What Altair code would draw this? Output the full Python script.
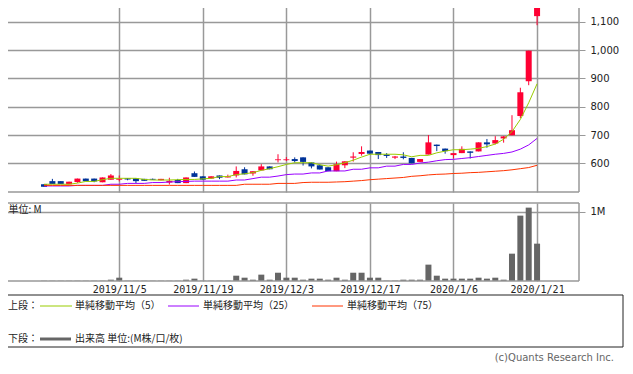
import altair as alt
import pandas as pd

# ---- data ----
tick_idx = [9, 19, 29, 39, 49, 59]
tick_labels = ["2019/11/5", "2019/11/19", "2019/12/3", "2019/12/17", "2020/1/6", "2020/1/21"]

opens = [526, 537, 537, 526, 534, 546, 546, 533, 542, 542,
         547, 547, 545, 545, 540, 532, 541, 530, 565, 554,
         546, 557, 550, 557, 579, 564, 575, 589, 611, 611,
         615, 621, 603, 593, 586, 572, 593, 620, 633, 645,
         640, 631, 620, 624, 619, 605, 631, 666, 652, 629,
         636, 642, 642, 674, 670, 688, 699, 767, 890, 1120]
highs = [526, 545, 537, 535, 546, 546, 546, 550, 562, 557,
         547, 547, 545, 546, 545, 549, 545, 550, 571, 554,
         554, 557, 560, 589, 586, 572, 597, 589, 632, 622,
         621, 621, 603, 596, 586, 606, 607, 639, 660, 645,
         640, 636, 626, 639, 619, 615, 700, 666, 652, 635,
         660, 642, 674, 686, 696, 696, 770, 867, 998, 1150]
lows = [517, 527, 527, 526, 531, 537, 533, 533, 542, 536,
        540, 530, 538, 541, 540, 525, 530, 530, 552, 542,
        546, 544, 550, 550, 561, 556, 575, 579, 603, 608,
        603, 592, 582, 578, 572, 572, 583, 606, 627, 631,
        615, 619, 615, 614, 600, 605, 631, 643, 634, 617,
        636, 617, 642, 655, 667, 673, 699, 760, 876, 1088]
closes = [517, 527, 527, 535, 546, 537, 536, 550, 557, 546,
          543, 537, 538, 542, 545, 538, 530, 550, 552, 542,
          554, 549, 554, 573, 561, 572, 589, 579, 614, 614,
          608, 605, 589, 578, 572, 597, 607, 624, 640, 634,
          629, 626, 624, 619, 600, 615, 674, 661, 643, 636,
          651, 637, 674, 667, 682, 695, 717, 851, 998, 1150]

ma5 = [526, 526, 526, 526, 530, 536, 536, 542, 547, 547,
       547, 547, 543, 541, 541, 541, 542, 543, 543, 545,
       547, 553, 553, 560, 563, 567, 575, 581, 588, 596,
       602, 602, 602, 595, 590, 595, 602, 611, 622, 632,
       632, 632, 632, 630, 623, 628, 628, 637, 643, 648,
       648, 650, 653, 659, 668, 685, 712, 755, 814, 881]
ma25 = [520, 520, 520, 520, 522, 522, 522, 522, 526, 526,
        529, 529, 529, 532, 532, 534, 535, 536, 537, 537,
        537, 537, 537, 541, 541, 546, 551, 551, 555, 560,
        562, 562, 566, 566, 573, 573, 573, 579, 579, 584,
        584, 590, 590, 596, 596, 601, 604, 609, 613, 614,
        617, 620, 624, 628, 632, 635, 640, 650, 665, 688]
ma75 = [522, 522, 522, 522, 522, 522, 522, 522, 522, 522,
        522, 522, 522, 522, 522, 522, 522, 522, 522, 522,
        522, 522, 522, 522, 526, 526, 526, 526, 529, 529,
        529, 532, 533, 533, 533, 534, 535, 537, 539, 542,
        544, 546, 548, 550, 554, 556, 559, 561, 562, 564,
        565, 567, 568, 570, 572, 574, 577, 581, 585, 593]

volume_m = [0.004, 0.004, 0.004, 0.004, 0.004, 0.004, 0.004, 0.004, 0.019, 0.048,
            0.004, 0.004, 0.004, 0.004, 0.004, 0.004, 0.004, 0.019, 0.034, 0.004,
            0.004, 0.004, 0.004, 0.077, 0.048, 0.019, 0.092, 0.019, 0.12, 0.048,
            0.048, 0.019, 0.034, 0.034, 0.019, 0.048, 0.019, 0.12, 0.12, 0.048,
            0.048, 0.005, 0.005, 0.019, 0.019, 0.019, 0.237, 0.077, 0.034, 0.034,
            0.034, 0.034, 0.048, 0.034, 0.048, 0.019, 0.396, 0.947, 1.063, 0.541]

price_ticks = [600, 700, 800, 900, 1000, 1100]

legend_texts = ["上段：", "単純移動平均（5）", "単純移動平均（25）", "単純移動平均（75）",
                "下段：", "出来高 単位:(M株/口/枚)"]
legend_colors = ["#99cc00", "#9900ff", "#ff3300", "#666666"]
unit_text = "単位: M"
copyright_text = "(c)Quants Research Inc."

# ---- tables ----
n = len(opens)
df = pd.DataFrame({
    "i": list(range(n)), "open": opens, "high": highs, "low": lows, "close": closes,
    "ma5": ma5, "ma25": ma25, "ma75": ma75, "vol": volume_m,
})
df["dir"] = ["up" if c >= o else "down" for o, c in zip(opens, closes)]

label_expr = " : ".join(
    [f"datum.value == {k} ? '{t}'" for k, t in zip(tick_idx, tick_labels)]) + " : ''"

GRID = "#999999"
XDOM = [-4.67, 63.42]
TOP_W, TOP_H, VOL_H = 579, 191, 78
xscale = alt.Scale(domain=XDOM, nice=False, zero=False)
x_top_axis = alt.Axis(values=tick_idx, labels=False, ticks=False, domain=False,
                      grid=True, title=None, gridColor=GRID, gridWidth=1.5)
y_axis = alt.Axis(orient="right", values=price_ticks, format=",d", title=None,
                  grid=True, gridColor=GRID, gridWidth=1.5, domain=False,
                  tickSize=6, tickColor=GRID, tickWidth=1, labelPadding=5,
                  labelFont="DejaVu Sans", labelFontSize=10, labelColor="#222222")
yscale = alt.Scale(domain=[498.6, 1173.5], nice=False, zero=False)


def X():
    return alt.X("i:Q", scale=xscale, axis=x_top_axis)


def Y(field):
    return alt.Y(f"{field}:Q", scale=yscale, axis=y_axis)


def frame(h):
    one = alt.Chart(pd.DataFrame({"k": [0]}))
    right = one.mark_rule(color=GRID, strokeWidth=1.5).encode(
        x=alt.value(TOP_W), y=alt.value(0), y2=alt.value(h))
    horiz = one.mark_rule(color=GRID, strokeWidth=1.5).encode(
        x=alt.value(8), x2=alt.value(TOP_W), y=alt.value(h))
    return [right, horiz]


dir_color = alt.Color("dir:N", scale=alt.Scale(domain=["up", "down"],
                                               range=["#ff0033", "#003399"]), legend=None)

base = alt.Chart(df)
wicks = base.mark_rule(strokeWidth=1).encode(x=X(), y=Y("low"), y2="high:Q", color=dir_color)
bodies = base.mark_bar(size=6).encode(x=X(), y=Y("open"), y2="close:Q", color=dir_color)
l5 = base.mark_line(color=legend_colors[0], strokeWidth=1).encode(x=X(), y=Y("ma5"))
l25 = base.mark_line(color=legend_colors[1], strokeWidth=1).encode(x=X(), y=Y("ma25"))
l75 = base.mark_line(color=legend_colors[2], strokeWidth=1).encode(x=X(), y=Y("ma75"))

top = alt.layer(wicks, bodies, l5, l25, l75, *frame(TOP_H)).properties(
    width=TOP_W, height=TOP_H)

# ---- volume panel ----
x_vol_axis = alt.Axis(values=tick_idx, labelExpr=label_expr, ticks=False, domain=False,
                      grid=True, title=None, gridColor=GRID, gridWidth=1.5,
                      labelPadding=3, labelFont="DejaVu Sans Mono", labelFontSize=10,
                      labelColor="#222222", labelFlush=False, labelOverlap=False)
vol_axis = alt.Axis(orient="right", values=[1], labelExpr="'1M'", title=None,
                    grid=True, gridColor=GRID, gridWidth=1.5, domain=False,
                    tickSize=6, tickColor=GRID, tickWidth=1, labelPadding=5,
                    labelFont="DejaVu Sans", labelFontSize=10, labelColor="#222222")
vbars = base.mark_bar(size=6, color="#666666").encode(
    x=alt.X("i:Q", scale=xscale, axis=x_vol_axis),
    y=alt.Y("vol:Q", scale=alt.Scale(domain=[0, 1.13], nice=False), axis=vol_axis),
)
unit = alt.Chart(pd.DataFrame({"t": [unit_text]})).mark_text(
    align="left", baseline="middle", font="Noto Sans CJK JP", fontSize=10, color="#222222"
).encode(text="t:N", x=alt.value(8.5), y=alt.value(7))
one = alt.Chart(pd.DataFrame({"k": [0]}))
vol_top = one.mark_rule(color=GRID, strokeWidth=1.5).encode(
    x=alt.value(8), x2=alt.value(TOP_W), y=alt.value(0))
vol = alt.layer(vbars, unit, vol_top, *frame(VOL_H)).properties(width=TOP_W, height=VOL_H)

# ---- legend panel ----
leg_text_df = pd.DataFrame({
    "t": legend_texts,
    "px": [8, 75, 203, 347, 8, 75],
    "py": [14, 14, 14, 14, 47, 47],
})
leg_line_df = pd.DataFrame({
    "x1": [40, 168, 312, 40], "x2": [72, 199, 343, 71],
    "py": [14, 14, 14, 47], "c": legend_colors, "w": [1, 1, 1, 3],
})
box = alt.Chart(pd.DataFrame({"k": [0]})).mark_rect(
    fill=None, stroke="#222222", strokeWidth=1
).encode(x=alt.value(0.5), x2=alt.value(623), y=alt.value(3), y2=alt.value(55))
leg_txt = alt.Chart(leg_text_df).mark_text(
    align="left", baseline="middle", font="Noto Sans CJK JP", fontSize=10, color="#222222"
).encode(text="t:N", x=alt.X("px:Q", scale=None, axis=None),
         y=alt.Y("py:Q", scale=None, axis=None))
leg_lines = alt.Chart(leg_line_df).mark_rule().encode(
    x=alt.X("x1:Q", scale=None, axis=None), x2="x2:Q",
    y=alt.Y("py:Q", scale=None, axis=None),
    color=alt.Color("c:N", scale=None), strokeWidth=alt.StrokeWidth("w:Q", scale=None))
copy = alt.Chart(pd.DataFrame({"t": [copyright_text]})).mark_text(
    align="right", baseline="middle", font="DejaVu Sans", fontSize=10, color="#666666"
).encode(text="t:N", x=alt.value(614), y=alt.value(66))
legend = alt.layer(box, leg_lines, leg_txt, copy).properties(width=620, height=55)

chart = alt.vconcat(top, vol, legend, spacing=11, bounds="flush").properties(
    padding={"left": -8, "top": -8, "right": 0, "bottom": 0}
).configure_view(stroke=None)

chart.save("out.html", embed_options={"renderer": "svg", "actions": False})
